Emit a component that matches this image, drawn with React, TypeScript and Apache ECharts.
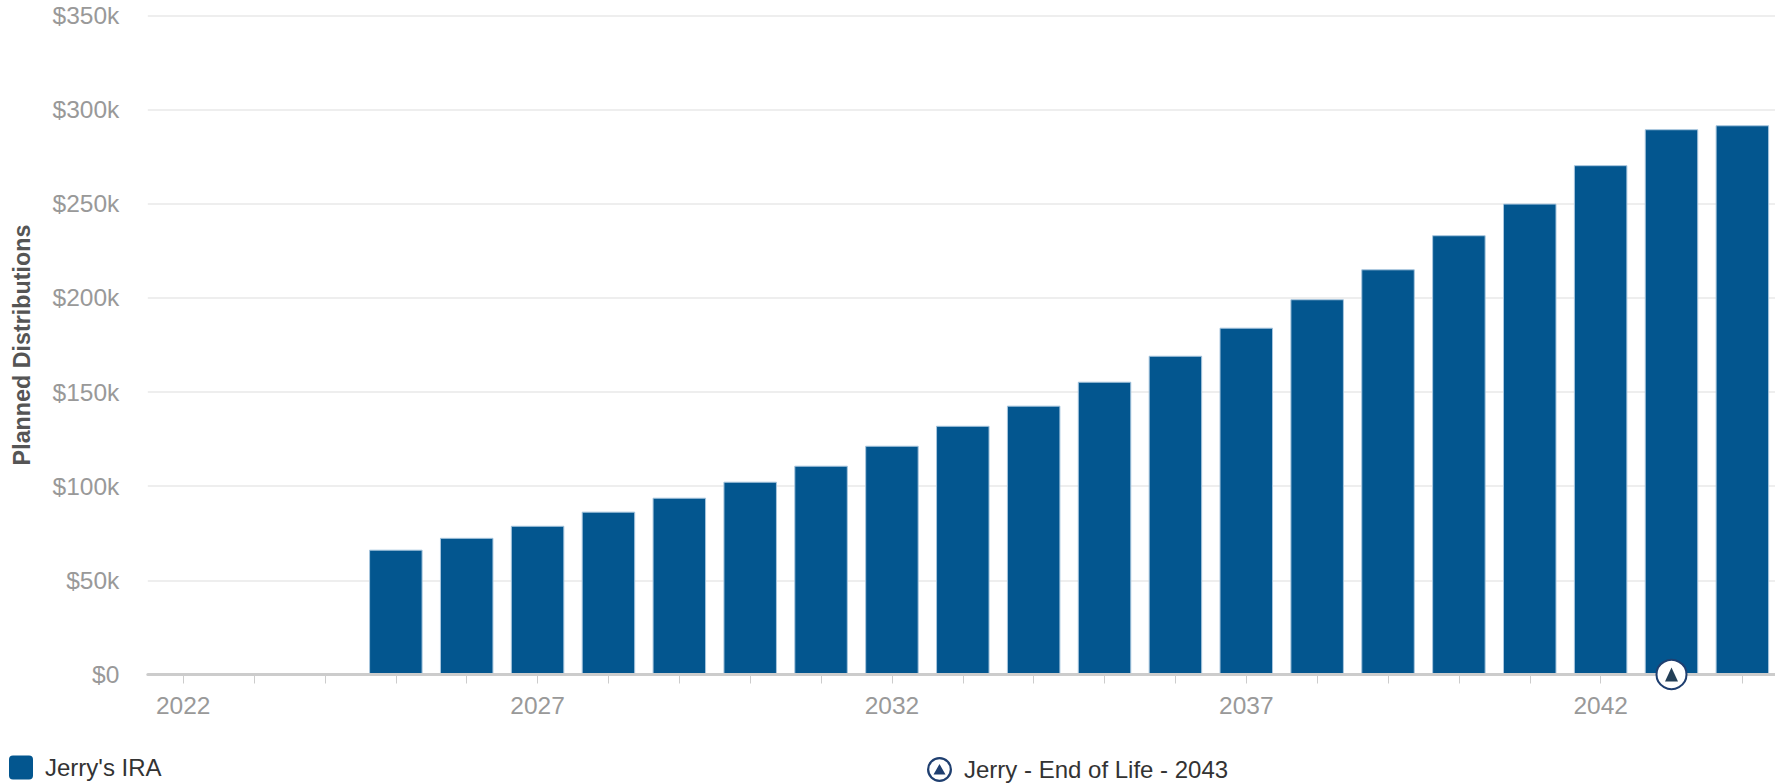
import React, { useEffect, useRef } from "react";
import * as echarts from "echarts";

const years = [
  "2022", "2023", "2024", "2025", "2026", "2027", "2028", "2029", "2030", "2031", "2032", "2033",
  "2034", "2035", "2036", "2037", "2038", "2039", "2040", "2041", "2042", "2043", "2044",
];
const iraDistributions = [
  null, null, null, 66300, 72600, 79000, 86500, 93900, 102400, 110900, 121500, 132100,
  142800, 155500, 169300, 184200, 199300, 215200, 233300, 250100, 270500, 289600, 291700,
];
const iraName = "Jerry's IRA";
const endOfLifeName = "Jerry - End of Life - 2043";
const endOfLifeYear = "2043";
const yAxisName = "Planned Distributions";

const FONT = "'Liberation Sans', Arial, sans-serif";
const BAR_BLUE = "#03568f";
const MARKER_NAVY = "#1f3f70";
const TRIANGLE_NAVY = "#233f57";
// Ring with a triangle inside, used as the legend key of the milestone.
const MILESTONE_ICON =
  "path://M50 0A50 50 0 1 1 50 100A50 50 0 1 1 50 0ZM50 9A41 41 0 1 0 50 91A41 41 0 1 0 50 9ZM50 28L74 70L26 70Z";
// Square key with small rounded corners for the bar series.
const BAR_ICON = "path://M4 0H20A4 4 0 0 1 24 4V20A4 4 0 0 1 20 24H4A4 4 0 0 1 0 20V4A4 4 0 0 1 4 0Z";

export default function App() {
  const ref = useRef<HTMLDivElement>(null);

  useEffect(() => {
    document.body.style.margin = "0";
    document.body.style.overflow = "hidden";
    const chart = echarts.init(ref.current!, undefined, { renderer: "svg" });
    chart.setOption({
      animation: false,
      backgroundColor: "#ffffff",
      textStyle: { fontFamily: FONT },
      // The last bars run up to the right edge, so the plot area is kept at its own size.
      grid: { left: 147.8, top: 15.5, width: 1630, height: 659, outerBoundsMode: "none" },
      legend: [
        {
          left: 9,
          top: 755.5,
          padding: 0,
          itemWidth: 24,
          itemHeight: 24,
          selectedMode: false,
          textStyle: { fontFamily: FONT, fontSize: 24, color: "#333333", padding: [0, 0, 0, 7] },
          data: [{ name: iraName, icon: BAR_ICON, itemStyle: { color: BAR_BLUE, borderWidth: 0 } }],
        },
        {
          left: 927,
          top: 757,
          padding: 0,
          itemWidth: 25,
          itemHeight: 25,
          selectedMode: false,
          textStyle: { fontFamily: FONT, fontSize: 24, color: "#333333", padding: [0, 0, 0, 7] },
          data: [
            {
              name: endOfLifeName,
              icon: MILESTONE_ICON,
              itemStyle: { color: MARKER_NAVY, borderWidth: 0, opacity: 1 },
            },
          ],
        },
      ],
      xAxis: {
        type: "category",
        data: years,
        z: 3,
        axisLine: { lineStyle: { color: "#cccccc", width: 3 } },
        axisTick: { show: true, interval: 0, alignWithLabel: true, length: 9, lineStyle: { color: "#cccccc", width: 1 } },
        axisLabel: { interval: 4, margin: 18, fontFamily: FONT, fontSize: 24.5, color: "#999999" },
        splitLine: { show: false },
      },
      yAxis: {
        type: "value",
        min: 0,
        max: 350000,
        interval: 50000,
        name: yAxisName,
        nameLocation: "middle",
        nameGap: 114.5,
        nameTextStyle: { fontFamily: FONT, fontSize: 23.3, fontWeight: "bold", color: "#555555" },
        axisLine: { show: false },
        axisTick: { show: false },
        axisLabel: {
          margin: 28.5,
          fontFamily: FONT,
          fontSize: 24.5,
          color: "#999999",
          formatter: (v: number) => (v === 0 ? "$0" : `$${v / 1000}k`),
        },
        splitLine: { lineStyle: { color: "#e9e9e9", width: 1.5 } },
      },
      series: [
        {
          name: iraName,
          type: "bar",
          data: iraDistributions,
          barWidth: 53.5,
          itemStyle: { color: BAR_BLUE, borderColor: "#a8c6de", borderWidth: 1 },
        },
        {
          name: endOfLifeName,
          type: "scatter",
          clip: false,
          z: 5,
          data: [[endOfLifeYear, 0]],
          symbol: "circle",
          symbolSize: [30, 29],
          itemStyle: { color: "#ffffff", borderColor: MARKER_NAVY, borderWidth: 2, opacity: 1 },
        },
        {
          name: "End of life glyph",
          type: "scatter",
          clip: false,
          z: 6,
          data: [[endOfLifeYear, 0]],
          symbol: "triangle",
          symbolSize: [13, 14],
          itemStyle: { color: TRIANGLE_NAVY, opacity: 1 },
        },
      ],
    });
    return () => chart.dispose();
  }, []);

  return <div ref={ref} style={{ width: 1775, height: 783 }} />;
}
